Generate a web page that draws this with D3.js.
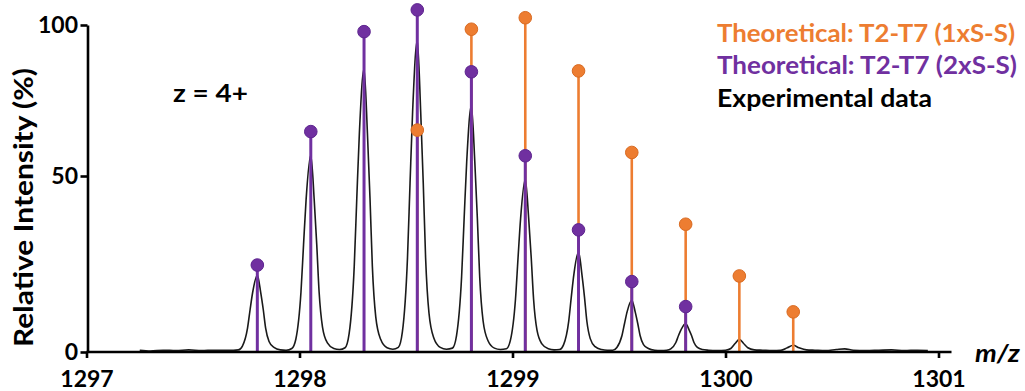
<!DOCTYPE html>
<html><head><meta charset="utf-8">
<script src="https://cdn.jsdelivr.net/npm/d3@7"></script>
<style>
body{margin:0;background:#fff}
svg{display:block}
text{font-family:Lato,"Open Sans",sans-serif;font-weight:700}
</style>
</head><body>
<svg id="chart" width="1025" height="391"></svg>
<script>
// ---- data ----
const xTicks = [1297, 1298, 1299, 1300, 1301];
const yTicks = [0, 50, 100];
const legendLabels = ["Theoretical: T2-T7 (1xS-S)", "Theoretical: T2-T7 (2xS-S)", "Experimental data"];
const chargeLabel = "z = 4+";

// Theoretical 2xS-S (purple)
const theo2Mz  = [1297.802, 1298.053, 1298.303, 1298.553, 1298.807, 1299.060, 1299.310, 1299.560, 1299.813];
const theo2Int = [24.7, 64.7, 97.8, 105.0, 84.5, 56.7, 34.7, 20.0, 12.9];

// Theoretical 1xS-S (orange)
const theo1Mz  = [1298.553, 1298.807, 1299.060, 1299.310, 1299.560, 1299.813, 1300.065, 1300.318];
const theo1Int = [65.2, 98.6, 102.4, 84.8, 57.8, 36.3, 21.6, 11.4];

// Experimental profile
const expMz = [
  1297.25,1297.30,1297.36,1297.42,1297.48,1297.54,1297.60,1297.66,1297.69,
  1297.713,1297.732,1297.756,1297.768,1297.780,1297.802,1297.818,1297.830,1297.841,1297.857,1297.880,1297.910,
  1297.937,
  1297.964,1297.983,1298.007,1298.019,1298.031,1298.053,1298.069,1298.081,1298.092,1298.108,1298.131,1298.161,
  1298.188,
  1298.214,1298.233,1298.257,1298.269,1298.281,1298.303,1298.319,1298.331,1298.342,1298.358,1298.381,1298.411,
  1298.438,
  1298.464,1298.483,1298.507,1298.519,1298.531,1298.553,1298.569,1298.581,1298.592,1298.608,1298.631,1298.661,
  1298.690,
  1298.718,1298.737,1298.761,1298.773,1298.785,1298.807,1298.823,1298.835,1298.846,1298.862,1298.885,1298.915,
  1298.943,
  1298.971,1298.990,1299.014,1299.026,1299.038,1299.060,1299.076,1299.088,1299.099,1299.115,1299.138,1299.168,
  1299.195,
  1299.221,1299.240,1299.264,1299.276,1299.288,1299.310,1299.326,1299.338,1299.349,1299.365,1299.388,1299.418,
  1299.445,
  1299.471,1299.490,1299.514,1299.526,1299.538,1299.560,1299.576,1299.588,1299.599,1299.615,1299.638,1299.668,
  1299.697,
  1299.724,1299.743,1299.767,1299.779,1299.791,1299.813,1299.829,1299.841,1299.852,1299.868,1299.891,1299.921,
  1299.960,
  1300.000,1300.025,1300.045,1300.065,1300.085,1300.105,1300.135,1300.175,
  1300.220,
  1300.260,1300.290,1300.318,1300.345,1300.380,1300.420,
  1300.47,1300.52,1300.56,1300.60,1300.66,1300.72,1300.78,1300.84,1300.90,1300.95
];
const expInt = [
  0.5,0.3,0.5,0.4,0.6,0.4,0.5,0.5,0.5,
  0.6,1.7,6.8,12.0,16.9,21.8,16.9,12.0,6.8,3.0,1.3,0.6,
  0.5,
  1.0,3.7,17.1,30.5,43.3,57.0,43.3,30.5,17.1,7.1,2.6,1.0,
  0.7,
  1.2,5.2,24.4,43.7,64.0,85.5,64.0,43.7,24.4,10.0,3.6,1.2,
  0.8,
  1.3,5.7,26.8,48.0,71.2,94.9,71.2,48.0,26.8,11.0,3.9,1.3,
  0.8,
  1.1,4.6,21.3,38.0,54.7,73.3,54.7,38.0,21.3,8.8,3.2,1.1,
  0.7,
  0.9,3.3,15.0,26.7,37.9,49.1,37.9,26.7,15.0,6.2,2.3,0.9,
  0.6,
  0.7,2.1,8.8,15.6,22.0,28.5,22.0,15.6,8.8,3.8,1.5,0.7,
  0.5,
  0.5,1.3,4.7,8.1,11.4,14.7,11.4,8.1,4.7,2.1,1.0,0.5,
  0.4,
  0.5,0.9,2.7,4.6,6.3,8.1,6.3,4.6,2.7,1.3,0.7,0.5,
  0.4,
  0.5,1.0,2.4,3.6,2.4,1.2,0.6,0.5,
  0.4,
  0.5,1.2,1.9,1.2,0.6,0.5,
  0.4,0.7,0.9,0.5,0.4,0.5,0.6,0.4,0.5,0.4
];

// ---- drawing ----
const ORANGE = "#ED7D31", PURPLE = "#7030A0";
const FONT = "Lato, 'Open Sans', sans-serif";
const svg = d3.select("#chart");

const x = d3.scaleLinear().domain([1297, 1301]).range([86.5, 938.5]);
const y = d3.scaleLinear().domain([0, 50, 100]).range([352, 176, 25]);

// experimental profile
const expData = expMz.map((m, i) => [m, expInt[i]]);
svg.append("path")
  .datum(expData)
  .attr("fill", "none")
  .attr("stroke", "#1a1a1a")
  .attr("stroke-width", 1.6)
  .attr("stroke-linejoin", "round")
  .attr("d", d3.line().x(d => x(d[0])).y(d => y(d[1])).curve(d3.curveMonotoneX));

const t1 = theo1Mz.map((m, i) => ({mz: m, v: theo1Int[i]}));
const t2 = theo2Mz.map((m, i) => ({mz: m, v: theo2Int[i]}));

// orange stems
svg.append("g").selectAll("line").data(t1).join("line")
  .attr("x1", d => x(d.mz)).attr("x2", d => x(d.mz))
  .attr("y1", y(0)).attr("y2", d => y(d.v))
  .attr("stroke", ORANGE).attr("stroke-width", 2.6);
// purple stems
svg.append("g").selectAll("line").data(t2).join("line")
  .attr("x1", d => x(d.mz)).attr("x2", d => x(d.mz))
  .attr("y1", y(0)).attr("y2", d => y(d.v))
  .attr("stroke", PURPLE).attr("stroke-width", 3);
// orange dots
svg.append("g").selectAll("circle").data(t1).join("circle")
  .attr("cx", d => x(d.mz)).attr("cy", d => y(d.v)).attr("r", 6.3)
  .attr("fill", ORANGE).attr("stroke", "#d96b22").attr("stroke-width", 1);
// purple dots
svg.append("g").selectAll("circle").data(t2).join("circle")
  .attr("cx", d => x(d.mz)).attr("cy", d => y(d.v)).attr("r", 6.3)
  .attr("fill", PURPLE).attr("stroke", "#5e2590").attr("stroke-width", 1);

// axes
const xAxis = svg.append("g").attr("transform", `translate(0,${y(0)})`)
  .call(d3.axisBottom(x).tickValues(xTicks).tickFormat(d3.format("d")).tickSize(6).tickSizeOuter(0));
xAxis.select(".domain").remove();
xAxis.append("line").attr("x1", x(1297)).attr("x2", x(1301) + 13).attr("y1", 0).attr("y2", 0)
  .attr("stroke", "#000").attr("stroke-width", 2.6);
xAxis.selectAll(".tick line").attr("stroke", "#000").attr("stroke-width", 2.6);
xAxis.selectAll(".tick text").attr("y", 35).attr("dy", 0)
  .attr("font-size", 23).attr("fill", "#000").style("font-family", FONT).style("font-weight", 700);

const yAxis = svg.append("g").attr("transform", `translate(${x(1297) + 1},0)`)
  .call(d3.axisLeft(y).tickValues(yTicks).tickSize(7).tickSizeOuter(0));
yAxis.select(".domain").attr("stroke", "#000").attr("stroke-width", 2.6);
yAxis.selectAll(".tick line").attr("stroke", "#000").attr("stroke-width", 2.6);
yAxis.selectAll(".tick text").attr("x", -9.5).attr("dy", "0.32em")
  .attr("font-size", 23).attr("fill", "#000").style("font-family", FONT).style("font-weight", 700);

// axis titles
svg.append("text")
  .attr("transform", "translate(33,207.5) rotate(-90)")
  .attr("text-anchor", "middle")
  .attr("font-size", 26)
  .attr("textLength", 279).attr("lengthAdjust", "spacingAndGlyphs")
  .text("Relative Intensity (%)");

svg.append("text")
  .attr("x", 975).attr("y", 362)
  .attr("font-size", 25).attr("font-style", "italic")
  .attr("textLength", 45).attr("lengthAdjust", "spacingAndGlyphs")
  .text("m/z");

svg.append("text")
  .attr("x", 173).attr("y", 102)
  .attr("font-size", 25)
  .attr("textLength", 75).attr("lengthAdjust", "spacingAndGlyphs")
  .text(chargeLabel);

// legend
const legendColors = [ORANGE, PURPLE, "#000"];
const legendY = [42, 74, 107];
const legendW = [298, 300, 215];
svg.append("g").selectAll("text").data(legendLabels).join("text")
  .attr("x", 717).attr("y", (d, i) => legendY[i])
  .attr("font-size", 24.5)
  .attr("textLength", (d, i) => legendW[i]).attr("lengthAdjust", "spacingAndGlyphs")
  .attr("fill", (d, i) => legendColors[i])
  .text(d => d);
</script>
</body></html>
